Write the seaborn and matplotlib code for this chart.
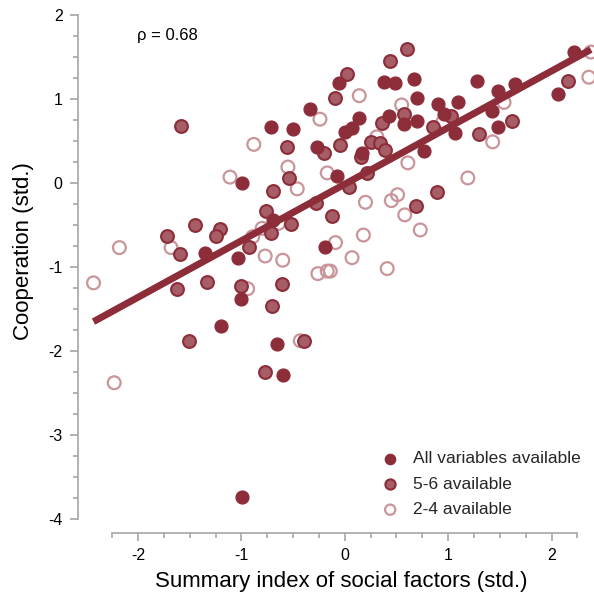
import numpy as np
import pandas as pd
import matplotlib
matplotlib.use("Agg")
import matplotlib.pyplot as plt
import seaborn as sns

# ---------------- data ----------------
all_x = [2.22, 2.06, 1.65, 1.48, 1.28, 0.67, 0.70, 0.90, 1.09, 0.96, 0.70, 0.57, 1.07,
         1.42, 1.48, 0.77, -0.06, 0.38, 0.49, 0.14, 0.07, 0.00, 0.43, 0.17, -0.08,
         -0.34, -0.71, -0.50, -0.27, -0.99, -0.69, -1.35, -1.03, -0.19, -1.00, -1.20,
         -0.66, -0.60, -0.99]
all_y = [1.56, 1.06, 1.18, 1.10, 1.21, 1.24, 1.01, 0.94, 0.96, 0.82, 0.74, 0.70, 0.60,
         0.86, 0.67, 0.38, 1.19, 1.20, 1.19, 0.77, 0.65, 0.61, 0.80, 0.36, 0.08,
         0.88, 0.67, 0.64, 0.43, 0.00, -0.44, -0.83, -0.89, -0.76, -1.38, -1.70,
         -1.92, -2.29, -3.74]

mid_x = [0.60, 0.44, 0.02, -0.09, 0.36, 0.57, 0.85, 1.03, 1.62, 1.30, 2.16, -0.05, 0.25,
         0.34, 0.39, 0.16, 0.21, 0.04, 0.89, 0.69, -0.12, -1.58, -0.56, -0.20, -0.54,
         -0.69, -0.28, -0.76, -0.52, -0.71, -1.45, -1.72, -1.21, -1.25, -1.59, -0.93,
         -1.62, -1.33, -1.00, -0.61, -0.70, -1.51, -0.39, -0.77]
mid_y = [1.60, 1.45, 1.30, 1.01, 0.71, 0.82, 0.67, 0.80, 0.74, 0.58, 1.21, 0.45, 0.49,
         0.48, 0.39, 0.31, 0.12, -0.05, -0.11, -0.27, -0.39, 0.68, 0.43, 0.36, 0.06,
         -0.10, -0.24, -0.33, -0.49, -0.60, -0.50, -0.63, -0.55, -0.63, -0.85, -0.76,
         -1.26, -1.18, -1.23, -1.20, -1.46, -1.88, -1.88, -2.25]

low_x = [2.36, 2.38, 1.54, 1.43, 0.95, 1.19, 0.14, 0.55, 0.31, 0.61, 0.51, 0.45, 0.20,
         0.58, 0.73, 0.18, -0.09, 0.07, 0.41, -0.14, -0.24, -0.88, -0.55, -0.17, -1.11,
         -0.46, -0.64, -0.80, -0.89, -0.77, -0.60, -0.26, -0.17, -0.94, -0.43, -2.18,
         -1.68, -2.43, -2.23]
low_y = [1.26, 1.56, 0.96, 0.49, 0.73, 0.06, 1.04, 0.93, 0.55, 0.24, -0.14, -0.21, -0.23,
         -0.38, -0.56, -0.62, -0.71, -0.89, -1.02, -1.05, 0.76, 0.46, 0.19, 0.12, 0.07,
         -0.07, -0.48, -0.54, -0.64, -0.87, -0.92, -1.08, -1.05, -1.26, -1.88, -0.77,
         -0.77, -1.19, -2.38]

group_labels = ["All variables available", "5-6 available", "2-4 available"]
rho_text = "ρ = 0.68"
x_label = "Summary index of social factors (std.)"
y_label = "Cooperation (std.)"
x_ticks = [-2, -1, 0, 1, 2]
y_ticks = [-4, -3, -2, -1, 0, 1, 2]

df = pd.DataFrame({
    "x": all_x + mid_x + low_x,
    "y": all_y + mid_y + low_y,
    "group": [group_labels[0]] * len(all_x) + [group_labels[1]] * len(mid_x)
             + [group_labels[2]] * len(low_x),
})

# ---------------- style ----------------
sns.set_theme(style="white")
plt.rcParams["font.family"] = ["Liberation Sans", "DejaVu Sans"]

dark = "#8c2d39"
mid_fill = "#a65d66"
light_edge = "#c9959a"

fig = plt.figure(figsize=(5.94, 5.97), dpi=100)
ax = fig.add_axes([78 / 594, 64 / 597, 516 / 594, 533 / 597])

styles = {
    group_labels[0]: dict(color=dark, edgecolor=dark, linewidth=1.0),
    group_labels[1]: dict(color=mid_fill, edgecolor=dark, linewidth=1.5),
    group_labels[2]: dict(color="none", edgecolor=light_edge, linewidth=1.6),
}
order = [group_labels[2], group_labels[1], group_labels[0]]
for g in order:
    sub = df[df["group"] == g]
    st = styles[g]
    sns.scatterplot(data=sub, x="x", y="y", ax=ax, s=85, marker="o",
                    facecolor=st["color"], edgecolor=st["edgecolor"],
                    linewidth=st["linewidth"], label=g, zorder=3, clip_on=True)

sns.regplot(data=df, x="x", y="y", ax=ax, scatter=False, ci=None, truncate=True,
            line_kws=dict(color=dark, linewidth=5, solid_capstyle="butt", zorder=4))

ax.set_xlim(-2.58, 2.41)
ax.set_ylim(-4.17, 2.18)

# axes styling
for side in ["top", "right"]:
    ax.spines[side].set_visible(False)
spine_col = "#a6a6a6"
ax.spines["left"].set_color(spine_col)
ax.spines["bottom"].set_color(spine_col)
ax.spines["left"].set_linewidth(1.2)
ax.spines["bottom"].set_linewidth(1.2)
ax.spines["left"].set_bounds(-4, 2)
ax.spines["bottom"].set_bounds(-2.25, 2.25)

ax.set_xticks(x_ticks)
ax.set_yticks(y_ticks)
ax.set_xticklabels([str(t) for t in x_ticks])
ax.set_yticklabels([str(t) for t in y_ticks])
xminor = [v for v in np.arange(-2.25, 2.26, 0.25) if abs(v - round(v)) > 1e-6]
yminor = [v for v in np.arange(-4, 2.01, 0.25) if abs(v - round(v)) > 1e-6]
ax.set_xticks(xminor, minor=True)
ax.set_yticks(yminor, minor=True)
ax.tick_params(which="major", direction="out", length=6, width=1.2, color=spine_col,
               labelsize=11.5, labelcolor="black", pad=5, bottom=True, left=True)
ax.tick_params(which="minor", direction="out", length=3.5, width=1.2, color=spine_col,
               bottom=True, left=True)
ax.grid(False)

ax.set_xlabel(x_label, fontsize=16, color="black")
ax.set_ylabel(y_label, fontsize=16, color="black")
ax.xaxis.set_label_coords(0.51, -0.072)
ax.yaxis.set_label_coords(-0.086, 0.529)

ax.text(0.114, 0.934, rho_text, transform=ax.transAxes, fontsize=12,
        va="center", ha="left", color="black")

handles, labels = ax.get_legend_handles_labels()
hmap = dict(zip(labels, handles))
leg = ax.legend([hmap[g] for g in group_labels], group_labels, loc="lower right",
                bbox_to_anchor=(0.994, 0.01), frameon=False, fontsize=12.5,
                handletextpad=0.3, labelspacing=0.6, borderaxespad=0.2,
                markerscale=0.8)

fig.savefig("out.png", dpi=100)
